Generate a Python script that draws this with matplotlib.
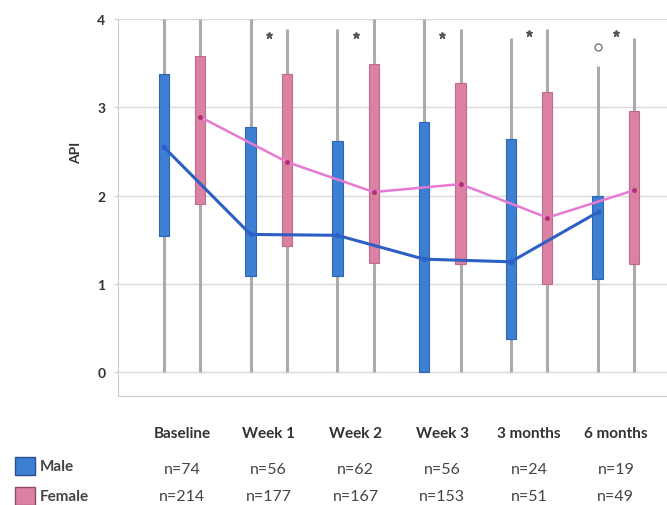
import numpy as np
import matplotlib
matplotlib.use('Agg')
import matplotlib.pyplot as plt
from matplotlib.patches import Rectangle

plt.rcParams['font.family'] = ['Lato', 'DejaVu Sans']

# Time points and sample sizes
categories = ['Baseline', 'Week 1', 'Week 2', 'Week 3', '3 months', '6 months']
male_n = [74, 56, 62, 56, 24, 19]
female_n = [214, 177, 167, 153, 51, 49]

# Box plot stats (API score)
male_min = [0, 0, 0, 0, 0, 0]
male_q1 = [1.54, 1.09, 1.09, 0.0, 0.37, 1.05]
male_q3 = [3.38, 2.78, 2.62, 2.83, 2.64, 2.00]
male_max = [4.0, 4.0, 3.89, 4.0, 3.78, 3.47]
male_mean = [2.55, 1.56, 1.55, 1.28, 1.25, 1.81]

female_min = [0, 0, 0, 0, 0, 0]
female_q1 = [1.90, 1.43, 1.24, 1.22, 1.00, 1.22]
female_q3 = [3.58, 3.38, 3.49, 3.28, 3.17, 2.96]
female_max = [4.0, 3.89, 4.0, 3.89, 3.89, 3.78]
female_mean = [2.89, 2.38, 2.04, 2.13, 1.75, 2.06]

# outliers: extreme (*) per group, plus one mild (o) outlier
extreme_y = [None, 3.82, 3.82, 3.82, 3.84, 3.84]
mild_outlier_group = 5
mild_outlier_y = 3.68

male_col = '#3d7fd3'
male_edge = '#2f66b0'
female_col = '#db82a4'
female_edge = '#c06a8c'
male_line_col = '#2d5fc4'
female_line_col = '#e67ad2'
whisk_col = '#ababab'

fig = plt.figure(figsize=(6.67, 5.06), dpi=100)
ax = fig.add_axes([118 / 667, 1 - 397 / 506, 1 - 118 / 667, (397 - 20) / 506])

x = np.arange(len(categories))
off = 0.21
bw = 0.12
xm = x - off
xf = x + off

# whiskers
ax.vlines(xm, male_min, male_max, color=whisk_col, lw=2.2, zorder=1)
ax.vlines(xf, female_min, female_max, color=whisk_col, lw=2.2, zorder=1)

# boxes
for i in range(len(categories)):
    ax.add_patch(Rectangle((xm[i] - bw / 2, male_q1[i]), bw, male_q3[i] - male_q1[i],
                           facecolor=male_col, edgecolor=male_edge, lw=0.8, zorder=2))
    ax.add_patch(Rectangle((xf[i] - bw / 2, female_q1[i]), bw, female_q3[i] - female_q1[i],
                           facecolor=female_col, edgecolor=female_edge, lw=0.8, zorder=2))

# mean lines
ax.plot(xm, male_mean, color=male_line_col, lw=2.2, marker='o', ms=3, zorder=4)
ax.plot(xf, female_mean, color=female_line_col, lw=1.8, marker='o', ms=2.5,
        mfc='#b0306a', mec='#b0306a', zorder=4)

# outlier markers
for i, yv in enumerate(extreme_y):
    if yv is not None:
        ax.plot(x[i], yv, marker='*', color='#555555', ms=5, zorder=5)
ax.plot(xm[mild_outlier_group], mild_outlier_y, marker='o', mfc='none', mec='#777777',
        ms=5, mew=1, zorder=5)

ax.set_ylim(-0.27, 4.0)
ax.set_xlim(-0.738, 5.59)
ax.set_yticks([0, 1, 2, 3, 4])
ax.set_yticklabels(['0', '1', '2', '3', '4'], fontweight='bold', fontsize=10, color='#333333')
ax.set_xticks([])
ax.yaxis.grid(True, color='#d9d9d9', lw=1)
ax.set_axisbelow(True)
ax.tick_params(axis='y', length=3, color='#cccccc', pad=6)
for s in ['top', 'right']:
    ax.spines[s].set_visible(False)
for s in ['left', 'bottom']:
    ax.spines[s].set_color('#cccccc')

fig.text(76 / 667, 1 - 153 / 506, 'API', rotation=90, ha='center', va='center',
         fontweight='bold', fontsize=10, color='#333333')

# category labels and n table under the plot
to_fig = lambda xv: (ax.transData.transform((xv, 0))[0]) / fig.bbox.width
for i, c in enumerate(categories):
    fx = to_fig(x[i])
    fig.text(fx, 1 - 434 / 506, c, ha='center', va='center', fontweight='bold',
             fontsize=11, color='#333333')
    fig.text(fx, 1 - 470 / 506, 'n=%d' % male_n[i], ha='center', va='center',
             fontsize=11.5, color='#444444')
    fig.text(fx, 1 - 497 / 506, 'n=%d' % female_n[i], ha='center', va='center',
             fontsize=11.5, color='#444444')

# legend squares
fig.patches.append(Rectangle((15 / 667, 1 - 476 / 506), 20 / 667, 18 / 506,
                             transform=fig.transFigure, facecolor=male_col,
                             edgecolor='#2a4f8f', lw=1))
fig.patches.append(Rectangle((15 / 667, 1 - 506 / 506), 20 / 667, 18 / 506,
                             transform=fig.transFigure, facecolor=female_col,
                             edgecolor='#8f4a66', lw=1))
fig.text(40 / 667, 1 - 467 / 506, 'Male', ha='left', va='center', fontweight='bold',
         fontsize=11, color='#444444')
fig.text(40 / 667, 1 - 497 / 506, 'Female', ha='left', va='center', fontweight='bold',
         fontsize=11, color='#444444')

fig.savefig('out.png', dpi=100)
